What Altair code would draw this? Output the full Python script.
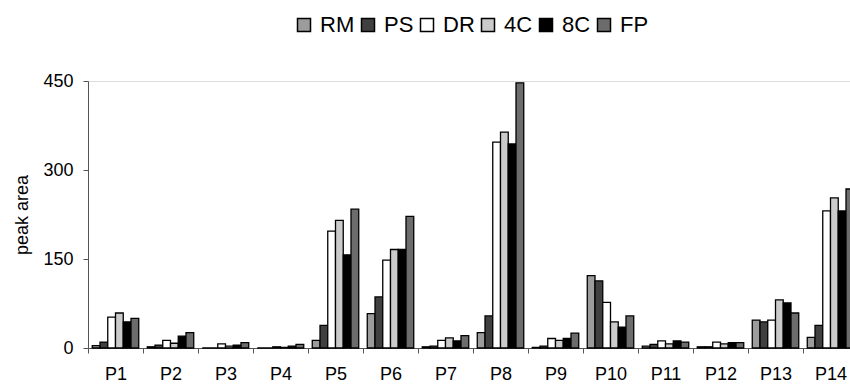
import altair as alt
import pandas as pd

peaks = ["P1", "P2", "P3", "P4", "P5", "P6", "P7", "P8", "P9", "P10", "P11", "P12", "P13", "P14"]
series = ["RM", "PS", "DR", "4C", "8C", "FP"]
colors = ["#9c9c9c", "#404040", "#ffffff", "#cbcbcb", "#000000", "#6c6c6c"]

RM = [4, 2, 0, 0, 13, 58, 2, 26, 1, 122, 3, 2, 47, 18]
PS = [10, 5, 0, 0, 38, 86, 3, 54, 3, 113, 6, 2, 44, 38]
DR = [52, 13, 7, 2, 197, 148, 13, 347, 16, 77, 12, 10, 47, 231]
C4 = [59, 8, 3, 1, 215, 166, 17, 364, 13, 44, 7, 7, 81, 253]
C8 = [44, 20, 5, 3, 157, 166, 12, 344, 16, 35, 12, 9, 76, 231]
FP = [50, 26, 9, 6, 234, 222, 21, 447, 25, 54, 10, 9, 59, 268]

values = {"RM": RM, "PS": PS, "DR": DR, "4C": C4, "8C": C8, "FP": FP}
rows = []
for s in series:
    for p, v in zip(peaks, values[s]):
        rows.append({"peak": p, "series": s, "value": v})
df = pd.DataFrame(rows)

FONT = "Liberation Sans"

chart = alt.Chart(df).mark_bar(stroke="black", strokeWidth=1.3).encode(
    x=alt.X("peak:N", sort=peaks, title=None,
            scale=alt.Scale(range=[0, 770], paddingInner=0, paddingOuter=0),
            axis=alt.Axis(tickBand="extent", labelAngle=0,
                          labelFontSize=18, labelPadding=12, tickSize=5,
                          tickColor="#555", domainColor="#555", labelColor="#000",
                          labelFont=FONT, grid=False)),
    xOffset=alt.XOffset("series:N", sort=series,
                        scale=alt.Scale(paddingOuter=0.55, paddingInner=0)),
    y=alt.Y("value:Q", title="peak area",
            scale=alt.Scale(domain=[0, 450], nice=False),
            axis=alt.Axis(values=[0, 150, 300, 450], labelFontSize=18, labelPadding=10,
                          tickSize=5, tickColor="#555", domainColor="#555",
                          labelColor="#000", titleColor="#000", titleFontSize=18,
                          titleFontWeight="normal", titlePadding=11,
                          labelFont=FONT, titleFont=FONT, grid=False)),
    color=alt.Color("series:N", sort=series,
                    scale=alt.Scale(domain=series, range=colors),
                    legend=alt.Legend(title=None, orient="none", legendX=205, legendY=-67,
                                      direction="horizontal", columns=6,
                                      symbolType="square", symbolSize=169,
                                      symbolStrokeColor="black", symbolStrokeWidth=1.5,
                                      symbolOpacity=1,
                                      labelFontSize=22, labelFont=FONT, labelColor="#000",
                                      labelOffset=5, columnPadding=2)),
).properties(
    width=762, height=267,
    autosize=alt.AutoSizeParams(type="none"),
    padding={"left": 88, "top": 81, "right": 0, "bottom": 39},
).configure_view(stroke=None).configure(background="white")

chart.save("out.html", embed_options={"renderer": "svg", "actions": False})
